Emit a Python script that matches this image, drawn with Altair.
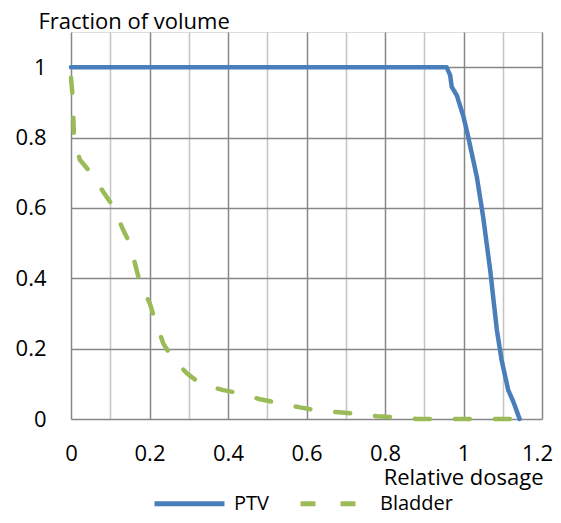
import altair as alt
import pandas as pd

# ---- data ----
series_names = ["PTV", "Bladder"]
series_colors = ["#4a7ebb", "#9bbb59"]

ptv_x = [0.0, 0.957, 0.966, 0.970, 0.983, 1.000, 1.012, 1.034, 1.050, 1.068, 1.085, 1.097, 1.114, 1.127, 1.143]
ptv_y = [1.0, 1.0, 0.977, 0.944, 0.920, 0.859, 0.802, 0.688, 0.575, 0.423, 0.253, 0.168, 0.082, 0.049, 0.0]

bl_x = [0.0, 0.004, 0.008, 0.023, 0.048, 0.082, 0.108, 0.133, 0.150, 0.176, 0.201, 0.214, 0.235,
        0.256, 0.295, 0.329, 0.388, 0.431, 0.482, 0.528, 0.583, 0.630, 0.684, 0.732, 0.78, 0.84,
        0.88, 1.145]
bl_y = [0.97, 0.92, 0.79, 0.736, 0.703, 0.646, 0.603, 0.537, 0.499, 0.385, 0.328, 0.281, 0.215,
        0.177, 0.130, 0.101, 0.082, 0.073, 0.056, 0.046, 0.033, 0.024, 0.019, 0.014, 0.008, 0.004,
        0.0, 0.0]

x_ticks = [0, 0.1, 0.2, 0.3, 0.4, 0.5, 0.6, 0.7, 0.8, 0.9, 1.0, 1.1, 1.2]
y_ticks = [0, 0.2, 0.4, 0.6, 0.8, 1.0]

rows = []
for i, (x, y) in enumerate(zip(ptv_x, ptv_y)):
    rows.append({"series": "PTV", "dose": x, "frac": y, "order": i})
for i, (x, y) in enumerate(zip(bl_x, bl_y)):
    rows.append({"series": "Bladder", "dose": x, "frac": y, "order": i})
df = pd.DataFrame(rows)

FONT = "Open Sans"
FS = 22
GRID_DARK = "#878787"
GRID_LIGHT = "#c4c4c4"

legend_props = dict(
    title=None, orient="none", legendX=81, legendY=434, direction="horizontal",
    symbolType="stroke", symbolSize=4900, symbolStrokeWidth=5,
    labelFont=FONT, labelFontSize=20, labelColor="black", labelOffset=7,
    columnPadding=21, padding=0,
)

chart = alt.Chart(df).mark_line(strokeWidth=4.5, strokeCap="round", strokeJoin="round").encode(
    x=alt.X(
        "dose:Q",
        scale=alt.Scale(domain=[0, 1.2], nice=False, zero=False),
        axis=alt.Axis(
            values=x_ticks,
            format="~g",
            labelExpr="round(datum.value*10)%2==0 ? datum.label : ''",
            title="Relative dosage",
            titleX=472, titleY=65, titleAlign="right", titleBaseline="alphabetic",
            titleFont=FONT, titleFontSize=FS, titleFontWeight="normal", titleColor="black",
            labelFont=FONT, labelFontSize=FS, labelColor="black",
            labelBaseline="alphabetic", labelPadding=41,
            labelOffset={"condition": {"test": "datum.value > 1.15", "value": -5}, "value": 0},
            labelOverlap=False, labelBound=False, labelFlush=False,
            domain=False, ticks=False, tickSize=0, grid=True, gridWidth=1.5,
            gridColor={"condition": {"test": "round(datum.value*10)%2==1", "value": GRID_LIGHT},
                       "value": GRID_DARK},
        ),
    ),
    y=alt.Y(
        "frac:Q",
        scale=alt.Scale(domain=[0, 1.1], nice=False, zero=False),
        axis=alt.Axis(
            values=y_ticks,
            format="~g",
            title="Fraction of volume",
            titleAngle=0, titleX=-33, titleY=-4, titleAlign="left", titleBaseline="alphabetic",
            titleFont=FONT, titleFontSize=FS, titleFontWeight="normal", titleColor="black",
            labelFont=FONT, labelFontSize=FS, labelColor="black", labelPadding=25,
            labelFlush=False,
            domain=False, ticks=False, tickSize=0, grid=True, gridWidth=1.5, gridColor=GRID_DARK,
        ),
    ),
    color=alt.Color(
        "series:N",
        scale=alt.Scale(domain=series_names, range=series_colors),
        legend=alt.Legend(**legend_props),
    ),
    strokeDash=alt.StrokeDash(
        "series:N",
        scale=alt.Scale(domain=series_names, range=[[1, 0], [15, 25]]),
        legend=alt.Legend(**legend_props),
    ),
    order="order:Q",
).properties(
    width=471,
    height=387,
    autosize=alt.AutoSizeParams(type="none"),
    padding={"left": 63, "top": 24, "right": 11, "bottom": 96},
).configure_view(stroke=None).configure(background="white")

chart.save("out.html", embed_options={"renderer": "svg", "actions": False})
